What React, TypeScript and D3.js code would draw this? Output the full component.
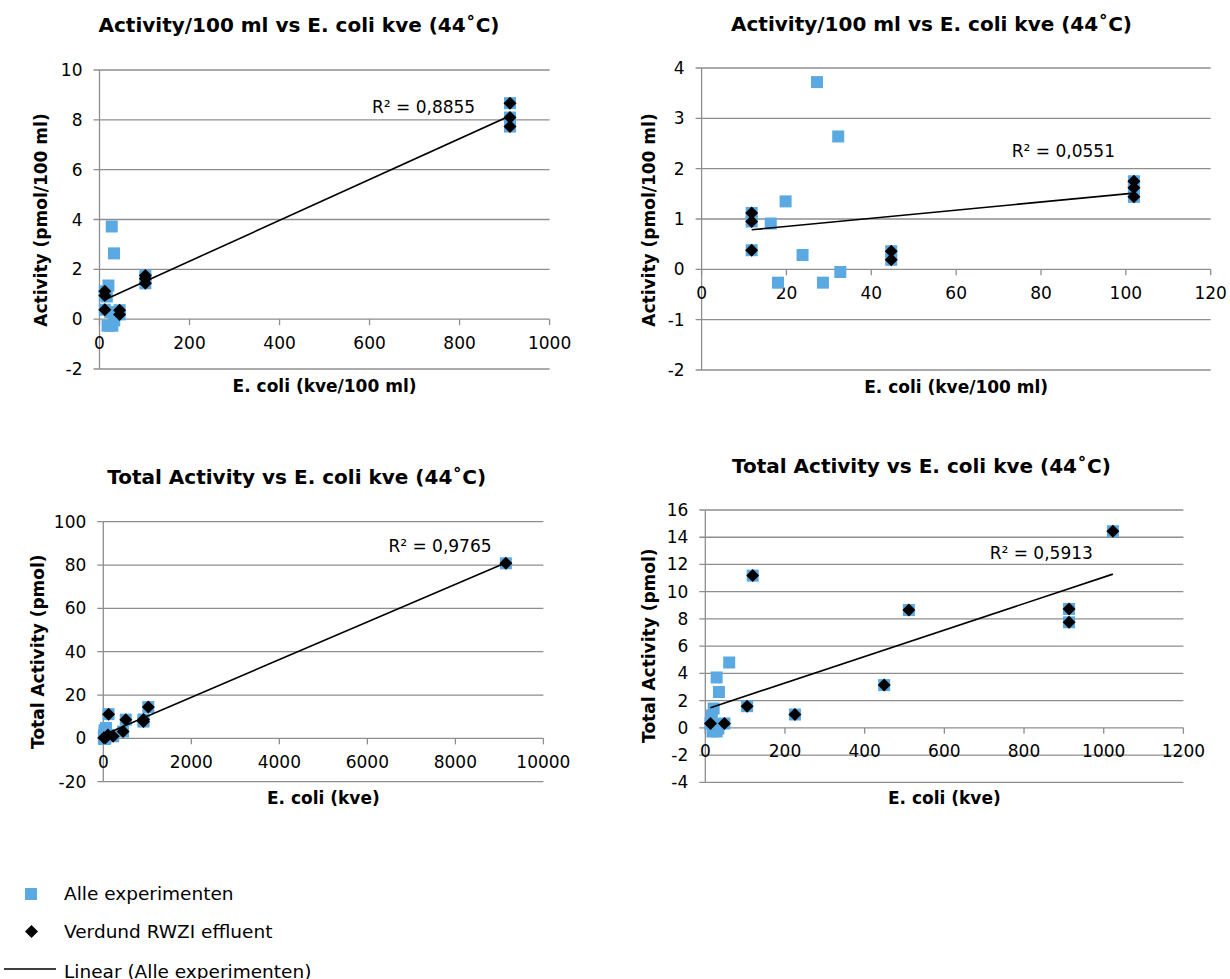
import React from "react";
import * as d3 from "d3";

const FONT = "'DejaVu Sans', Verdana, sans-serif";
const BLUE = "#5aa9e2";
const GRID = "#8e8e8e";

// activity per 100 ml vs E. coli kve per 100 ml (all experiments)
const per100AlleX = [27.2, 32.2, 19.8, 16.3, 23.8, 18.0, 28.6, 32.7, 11.8, 11.8, 11.8, 44.7, 44.7, 101.9, 101.9, 101.9, 912, 912, 912];
const per100AlleY = [3.72, 2.64, 1.35, 0.91, 0.285, -0.265, -0.265, -0.053, 1.12, 0.95, 0.38, 0.36, 0.19, 1.75, 1.62, 1.44, 8.67, 8.09, 7.73];
// diluted RWZI effluent
const per100RwziX = [11.8, 11.8, 11.8, 44.7, 44.7, 101.9, 101.9, 101.9, 912, 912, 912];
const per100RwziY = [1.12, 0.95, 0.38, 0.36, 0.19, 1.75, 1.62, 1.44, 8.67, 8.09, 7.73];

// total activity (pmol) vs E. coli kve
const totalAlleX = [13, 48, 105, 119, 225, 449, 511, 913, 913, 1023, 60, 28.5, 34.3, 21, 16.3, 23.8, 18, 28.6, 32.7, 9148];
const totalAlleY = [0.32, 0.32, 1.59, 11.18, 0.98, 3.14, 8.65, 8.73, 7.75, 14.44, 4.8, 3.7, 2.63, 1.42, 0.91, 0.285, -0.265, -0.265, -0.05, 80.8];
const totalRwziX = [13, 48, 105, 119, 225, 449, 511, 913, 913, 1023, 9148];
const totalRwziY = [0.32, 0.32, 1.59, 11.18, 0.98, 3.14, 8.65, 8.73, 7.75, 14.44, 80.8];

const p1XTicks = [0, 200, 400, 600, 800, 1000];
const p1YTicks = [-2, 0, 2, 4, 6, 8, 10];
const p2XTicks = [0, 20, 40, 60, 80, 100, 120];
const p2YTicks = [-2, -1, 0, 1, 2, 3, 4];
const p3XTicks = [0, 2000, 4000, 6000, 8000, 10000];
const p3YTicks = [-20, 0, 20, 40, 60, 80, 100];
const p4XTicks = [0, 200, 400, 600, 800, 1000, 1200];
const p4YTicks = [-4, -2, 0, 2, 4, 6, 8, 10, 12, 14, 16];

const r2Labels = ["R² = 0,8855", "R² = 0,0551", "R² = 0,9765", "R² = 0,5913"];

function zip(xs: number[], ys: number[], maxX: number) {
  return xs.map((x, i) => ({ x, y: ys[i] })).filter((d) => d.x <= maxX);
}

// least squares line, drawn from min x to max x like Excel does
function linearFit(pts: { x: number; y: number }[]) {
  const mx = d3.mean(pts, (d) => d.x)!;
  const my = d3.mean(pts, (d) => d.y)!;
  let sxy = 0,
    sxx = 0;
  pts.forEach((d) => {
    sxy += (d.x - mx) * (d.y - my);
    sxx += (d.x - mx) * (d.x - mx);
  });
  const slope = sxy / sxx;
  const b = my - slope * mx;
  const [x0, x1] = d3.extent(pts, (d) => d.x) as [number, number];
  return [
    { x: x0, y: b + slope * x0 },
    { x: x1, y: b + slope * x1 },
  ];
}

function Panel(p: any) {
  const x = d3.scaleLinear().domain(p.xDomain).range([p.left, p.right]);
  const y = d3.scaleLinear().domain(p.yDomain).range([p.bottom, p.top]);
  const alle = zip(p.alleX, p.alleY, p.xDomain[1]);
  const rwzi = zip(p.rwziX, p.rwziY, p.xDomain[1]);
  const trend = linearFit(alle);
  const line = d3
    .line<{ x: number; y: number }>()
    .x((d) => x(d.x))
    .y((d) => y(d.y));
  const y0 = y(0);
  const fmt = (v: number) => String(v);

  return (
    <g fontFamily={FONT}>
      <text x={p.titleX} y={p.titleY} textAnchor="middle" fontSize={20} fontWeight="bold" fill="#000">
        {p.title}
      </text>
      {p.yTicks.map((t: number) => (
        <g key={"y" + t}>
          <line x1={p.left - 6} x2={p.right} y1={y(t)} y2={y(t)} stroke={GRID} strokeWidth={1.3} />
          <text x={p.left - 17} y={y(t) + 6} textAnchor="end" fontSize={17} fill="#000">
            {fmt(t)}
          </text>
        </g>
      ))}
      <line x1={p.left} x2={p.left} y1={p.top} y2={p.bottom} stroke={GRID} strokeWidth={1.3} />
      {p.xTicks.map((t: number) => (
        <g key={"x" + t}>
          <line x1={x(t)} x2={x(t)} y1={y0} y2={y0 + 6} stroke={GRID} strokeWidth={1.3} />
          <text x={x(t)} y={y0 + 29.5} textAnchor="middle" fontSize={17} fill="#000">
            {fmt(t)}
          </text>
        </g>
      ))}
      {alle.map((d, i) => (
        <rect key={"a" + i} x={x(d.x) - 6} y={y(d.y) - 6} width={12} height={12} fill={BLUE} />
      ))}
      {rwzi.map((d, i) => {
        const cx = x(d.x),
          cy = y(d.y);
        return (
          <path
            key={"r" + i}
            d={`M${cx},${cy - 6.5}L${cx + 6.5},${cy}L${cx},${cy + 6.5}L${cx - 6.5},${cy}Z`}
            fill="#000"
          />
        );
      })}
      <path d={line(trend)!} stroke="#000" strokeWidth={1.6} fill="none" />
      <text x={p.r2X} y={p.r2Y} fontSize={17} fill="#000">
        {p.r2}
      </text>
      <text x={(p.left + p.right) / 2} y={p.xLabelY} textAnchor="middle" fontSize={17} fontWeight="bold" fill="#000">
        {p.xLabel}
      </text>
      <text
        transform={`translate(${p.yLabelX},${p.yLabelY}) rotate(-90)`}
        textAnchor="middle"
        fontSize={17}
        fontWeight="bold"
        fill="#000"
      >
        {p.yLabel}
      </text>
    </g>
  );
}

export default function App() {
  const title1 = "Activity/100 ml vs E. coli kve (44˚C)";
  const title2 = "Total Activity vs E. coli kve (44˚C)";
  return (
    <svg
      width={1230}
      height={979}
      style={{ position: "absolute", left: 0, top: 0, display: "block", background: "#fff" }}
    >
      <rect width={1230} height={979} fill="#fff" />
      <Panel
        title={title1}
        titleX={299}
        titleY={31.7}
        left={99.5}
        right={549.6}
        top={70}
        bottom={369}
        xDomain={[0, 1000]}
        yDomain={[-2, 10]}
        xTicks={p1XTicks}
        yTicks={p1YTicks}
        alleX={per100AlleX}
        alleY={per100AlleY}
        rwziX={per100RwziX}
        rwziY={per100RwziY}
        r2={r2Labels[0]}
        r2X={372}
        r2Y={113.3}
        xLabel="E. coli (kve/100 ml)"
        xLabelY={392}
        yLabel="Activity (pmol/100 ml)"
        yLabelX={46.5}
        yLabelY={220}
      />
      <Panel
        title={title1}
        titleX={931.5}
        titleY={30.7}
        left={701.6}
        right={1210.7}
        top={68}
        bottom={370}
        xDomain={[0, 120]}
        yDomain={[-2, 4]}
        xTicks={p2XTicks}
        yTicks={p2YTicks}
        alleX={per100AlleX}
        alleY={per100AlleY}
        rwziX={per100RwziX}
        rwziY={per100RwziY}
        r2={r2Labels[1]}
        r2X={1011.8}
        r2Y={157.3}
        xLabel="E. coli (kve/100 ml)"
        xLabelY={393}
        yLabel="Activity (pmol/100 ml)"
        yLabelX={654.6}
        yLabelY={220}
      />
      <Panel
        title={title2}
        titleX={296.7}
        titleY={484}
        left={103.3}
        right={543.4}
        top={521.7}
        bottom={781.7}
        xDomain={[0, 10000]}
        yDomain={[-20, 100]}
        xTicks={p3XTicks}
        yTicks={p3YTicks}
        alleX={totalAlleX}
        alleY={totalAlleY}
        rwziX={totalRwziX}
        rwziY={totalRwziY}
        r2={r2Labels[2]}
        r2X={388.4}
        r2Y={552}
        xLabel="E. coli (kve)"
        xLabelY={804}
        yLabel="Total Activity (pmol)"
        yLabelX={44}
        yLabelY={651.7}
      />
      <Panel
        title={title2}
        titleX={921.4}
        titleY={472.7}
        left={705.3}
        right={1183.4}
        top={510}
        bottom={782.3}
        xDomain={[0, 1200]}
        yDomain={[-4, 16]}
        xTicks={p4XTicks}
        yTicks={p4YTicks}
        alleX={totalAlleX}
        alleY={totalAlleY}
        rwziX={totalRwziX}
        rwziY={totalRwziY}
        r2={r2Labels[3]}
        r2X={989.7}
        r2Y={559.3}
        xLabel="E. coli (kve)"
        xLabelY={804}
        yLabel="Total Activity (pmol)"
        yLabelX={654.5}
        yLabelY={645.7}
      />
      <g fontFamily={FONT} fontSize={18.5} fill="#000">
        <rect x={25} y={888} width={12} height={12} fill={BLUE} />
        <text x={64} y={900}>
          Alle experimenten
        </text>
        <path d="M31.5,925L38,931.5L31.5,938L25,931.5Z" fill="#000" />
        <text x={64} y={938.3}>
          Verdund RWZI effluent
        </text>
        <line x1={4} x2={56} y1={969} y2={969} stroke="#000" strokeWidth={1.6} />
        <text x={64} y={978}>
          Linear (Alle experimenten)
        </text>
      </g>
    </svg>
  );
}
